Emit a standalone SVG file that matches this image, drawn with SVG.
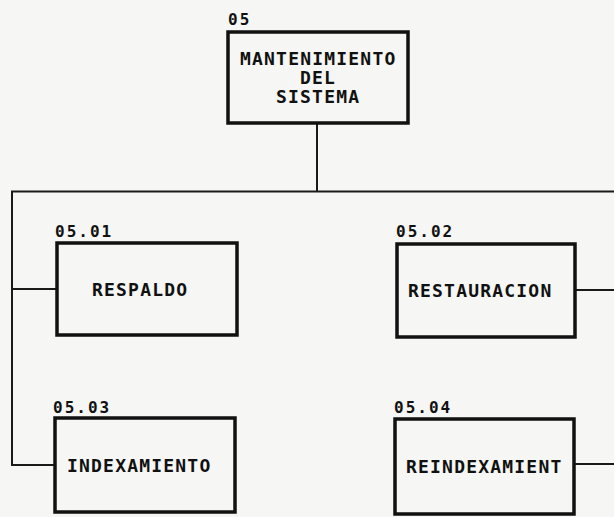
<svg xmlns="http://www.w3.org/2000/svg" width="614" height="517" viewBox="0 0 614 517">
<style>
.box{fill:none;stroke:#111;stroke-width:3.5}
.conn{fill:none;stroke:#1a1a1a;stroke-width:2}
.t{font-family:"DejaVu Sans Mono","Liberation Mono",monospace;font-weight:bold;font-size:18px;letter-spacing:1.2px;fill:#111}
.id{font-family:"DejaVu Sans Mono","Liberation Mono",monospace;font-weight:bold;font-size:16px;letter-spacing:2px;fill:#111}
</style>
<rect x="0" y="0" width="614" height="517" fill="#f6f6f4"/>
<g id="connectors">
<path class="conn" d="M317 123 V191.5"/>
<path class="conn" d="M11 191.5 H614"/>
<path class="conn" d="M12 191.5 V465 H55"/>
<path class="conn" d="M12 289 H57"/>
<path class="conn" d="M575 290 H614"/>
<path class="conn" d="M574 464 H614"/>
</g>
<g id="n05">
<text class="id" x="228" y="25">05</text>
<rect class="box" x="228" y="32" width="180" height="91"/>
<text class="t" x="240" y="65">MANTENIMIENTO</text>
<text class="t" x="300" y="84">DEL</text>
<text class="t" x="276" y="103">SISTEMA</text>
</g>
<g id="n05_01">
<text class="id" x="55" y="237">05.01</text>
<rect class="box" x="57" y="243" width="180" height="92"/>
<text class="t" x="92" y="296">RESPALDO</text>
</g>
<g id="n05_02">
<text class="id" x="396" y="237">05.02</text>
<rect class="box" x="397" y="244" width="178" height="93"/>
<text class="t" x="408" y="297">RESTAURACION</text>
</g>
<g id="n05_03">
<text class="id" x="53" y="413">05.03</text>
<rect class="box" x="55" y="418" width="180" height="94"/>
<text class="t" x="67" y="472">INDEXAMIENTO</text>
</g>
<g id="n05_04">
<text class="id" x="394" y="413">05.04</text>
<rect class="box" x="395" y="419" width="179" height="95"/>
<text class="t" x="406" y="473">REINDEXAMIENT</text>
</g>
</svg>
